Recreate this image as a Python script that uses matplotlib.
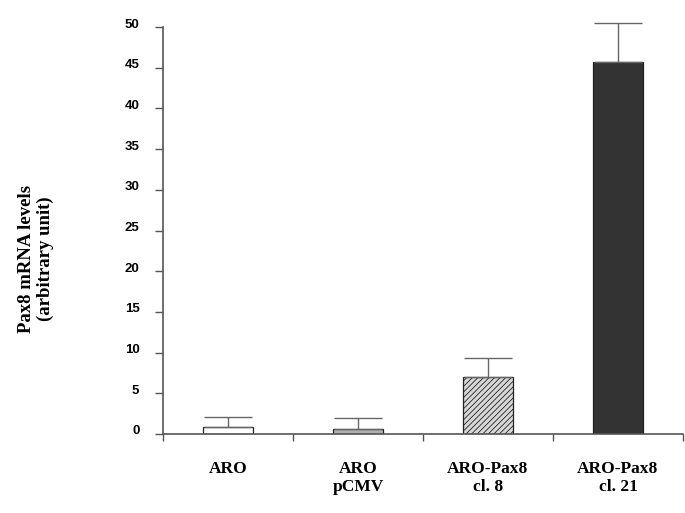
import matplotlib
matplotlib.use("Agg")
import matplotlib.pyplot as plt
import matplotlib.transforms as mtransforms
import numpy as np

categories = ["ARO", "ARO\npCMV", "ARO-Pax8\ncl. 8", "ARO-Pax8\ncl. 21"]
values = [0.9, 0.6, 7.0, 45.7]
errors = [1.2, 1.4, 2.3, 4.8]
yticks = [0, 5, 10, 15, 20, 25, 30, 35, 40, 45, 50]

plt.rcParams['hatch.linewidth'] = 0.6
plt.rcParams['hatch.color'] = '#444444'

fig = plt.figure(figsize=(6.85, 5.13), dpi=100)
ax = fig.add_axes([163/685, 1-434/513, 520/685, (434-27)/513])

x = np.arange(len(categories))
faces = ['white', '#b0b0b0', '#d8d8d8', '#333333']
hatches = [None, None, '//////', None]
for xi, v, e, fc, h in zip(x, values, errors, faces, hatches):
    ax.bar(xi, v, width=0.39, color=fc, edgecolor='#222222', linewidth=0.9,
           hatch=h, zorder=2)
    ax.errorbar(xi, v, yerr=[[0], [e]], fmt='none', ecolor='#666666',
                elinewidth=1.0, capsize=17, capthick=1.0, clip_on=False, zorder=3)

ax.set_xlim(-0.5, 3.5)
ax.set_ylim(0, 50)
ax.set_yticks(yticks)
ax.set_yticklabels([str(t) for t in yticks], fontfamily='Liberation Sans',
                   fontweight='bold', fontsize=9.5)
ax.set_xticks(np.arange(-0.5, 3.6, 1.0))
ax.set_xticklabels([])
ax.tick_params(axis='y', direction='out', length=6, width=1, color='#555555', pad=11)
ax.tick_params(axis='x', direction='out', length=5, width=1, color='#555555')
offset = mtransforms.ScaledTranslation(0, 4/100, fig.dpi_scale_trans)
for lab in ax.get_yticklabels():
    lab.set_transform(lab.get_transform() + offset)
for s in ['top', 'right']:
    ax.spines[s].set_visible(False)
for s in ['left', 'bottom']:
    ax.spines[s].set_color('#555555')
    ax.spines[s].set_linewidth(1.2)

for xi, lab in zip(x, categories):
    ax.text(xi, -3.3, lab, ha='center', va='top', fontfamily='Liberation Serif',
            fontweight='bold', fontsize=12.5, linespacing=1.2,
            transform=ax.transData)

fig.text(0.053, 1-259/513, "Pax8 mRNA levels\n(arbitrary unit)", rotation=90,
         ha='center', va='center', fontfamily='Liberation Serif',
         fontweight='bold', fontsize=13.5, linespacing=1.1)

fig.savefig("out.png", dpi=100)
